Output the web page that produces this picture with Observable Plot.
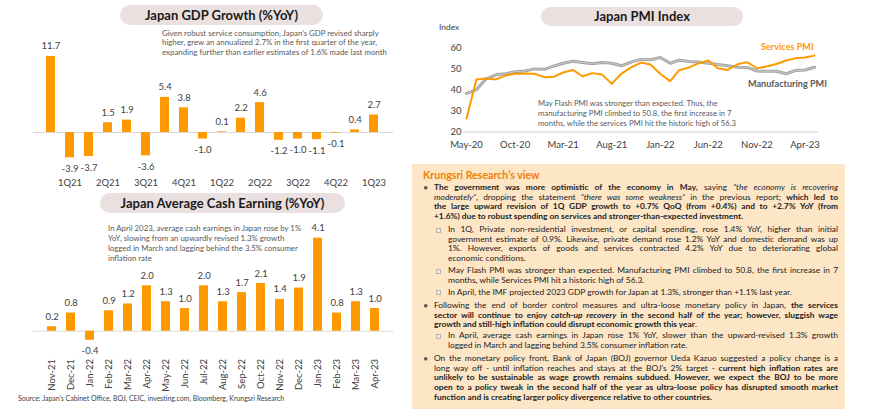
<!DOCTYPE html>
<html><head><meta charset="utf-8">
<script src="https://cdn.jsdelivr.net/npm/d3@7"></script>
<script src="https://cdn.jsdelivr.net/npm/@observablehq/plot@0.6"></script>
<style>
body{margin:0;width:870px;height:420px;background:#fff;position:relative;overflow:hidden;font-family:Lato,sans-serif;color:#404040}
.abs{position:absolute}
.pill{position:absolute;background:#e9e0df;border-radius:11px;text-align:center;font-weight:700;color:#1a1a1a;font-size:13px}
.note{position:absolute;font-size:7.85px;line-height:9.6px;color:#595959;white-space:nowrap}
.panel{position:absolute;left:412px;top:164px;width:433px;height:245px;background:#fde6c6}
.hdr{position:absolute;left:423px;top:168px;font-size:10.6px;font-weight:700;color:#f07f09;line-height:14px}
.para{position:absolute;font-size:8.4px;line-height:9.65px;color:#222}
.para .ln{text-align:justify;text-align-last:justify;white-space:normal;height:9.65px;overflow:visible}
.para .ln.last{text-align-last:left}
.dot{position:absolute;font-size:9px;color:#555;line-height:9.65px}
.sq{position:absolute;width:3px;height:3px;border:1px solid #b5b5b5}
.lbl{position:absolute;font-size:9.1px;font-weight:700;white-space:nowrap}
</style></head>
<body>
<div id="gdp" class="abs" style="left:0;top:0"></div>
<div id="cash" class="abs" style="left:0;top:190px"></div>
<div id="pmi" class="abs" style="left:400px;top:0"></div>
<script>
// ---- GDP ----
const gdpTickLabels = ["", "1Q21", "", "2Q21", "", "3Q21", "", "4Q21", "", "1Q22", "", "2Q22", "", "3Q22", "", "4Q22", "", "1Q23"];
const gdpValues = [11.7, -3.9, -3.7, 1.5, 1.9, -3.6, 5.4, 3.8, -1.0, 0.1, 2.2, 4.6, -1.2, -1.0, -1.1, -0.1, 0.4, 2.7];
// ---- Cash earnings ----
const cashMonths = ["Nov-21","Dec-21","Jan-22","Feb-22","Mar-22","Apr-22","May-22","Jun-22","Jul-22","Aug-22","Sep-22","Oct-22","Nov-22","Dec-22","Jan-23","Feb-23","Mar-23","Apr-23"];
const cashValues = [0.2, 0.8, -0.4, 0.9, 1.2, 2.0, 1.3, 1.0, 2.0, 1.3, 1.7, 2.1, 1.4, 1.9, 4.1, 0.8, 1.3, 1.0];
// ---- PMI ----
const pmiMonths = ["May-20","Jun-20","Jul-20","Aug-20","Sep-20","Oct-20","Nov-20","Dec-20",
 "Jan-21","Feb-21","Mar-21","Apr-21","May-21","Jun-21","Jul-21","Aug-21","Sep-21","Oct-21","Nov-21","Dec-21",
 "Jan-22","Feb-22","Mar-22","Apr-22","May-22","Jun-22","Jul-22","Aug-22","Sep-22","Oct-22","Nov-22","Dec-22",
 "Jan-23","Feb-23","Mar-23","Apr-23","May-23"];
const manufacturingPMI = [38.4, 40.1, 45.2, 47.2, 47.7, 48.7, 49.0, 50.0,
 49.8, 51.4, 52.7, 53.6, 53.0, 52.4, 53.0, 52.7, 51.5, 53.2, 54.5, 54.3,
 55.4, 52.7, 54.1, 53.5, 53.3, 52.7, 52.1, 51.5, 50.8, 50.7, 49.0, 48.9,
 48.9, 47.7, 49.2, 49.5, 50.8];
const servicesPMI = [26.5, 45.0, 45.4, 45.0, 46.9, 47.7, 47.8, 47.7,
 46.1, 46.3, 48.3, 49.5, 46.5, 48.0, 47.4, 42.9, 47.8, 50.7, 53.0, 52.1,
 47.6, 44.2, 49.4, 50.7, 52.6, 54.0, 50.3, 49.5, 52.2, 53.2, 50.3, 51.1,
 52.3, 54.0, 55.0, 55.4, 56.3];
const pmiTicks = ["May-20","Oct-20","Mar-21","Aug-21","Jan-22","Jun-22","Nov-22","Apr-23"];
const pmiYTicks = [20, 30, 40, 50, 60];

const ORANGE = "#ff9900";
const fmt = v => v.toFixed(1);
const baseStyle = {fontFamily: "Lato, sans-serif", fontSize: "9.5px", color: "#404040", background: "transparent", overflow: "visible"};

// GDP chart
const gdpData = gdpValues.map((v, i) => ({i, v}));
document.getElementById("gdp").append(Plot.plot({
  width: 400, height: 192, marginLeft: 28, marginRight: 4, marginTop: 47.5, marginBottom: 27.5,
  style: baseStyle,
  x: {type: "band", domain: d3.range(gdpValues.length), padding: 0.55, tickFormat: i => gdpTickLabels[i], tickSize: 0, tickPadding: 14, label: null},
  y: {domain: [-5, 13], axis: null},
  marks: [
    Plot.ruleY([0], {stroke: "#d9d9d9", strokeWidth: 1, insetLeft: 5, insetRight: 3}),
    Plot.barY(gdpData, {x: "i", y: "v", fill: ORANGE}),
    Plot.text(gdpData.filter(d => d.v >= 0), {x: "i", y: "v", text: d => fmt(d.v), dy: -10, fill: "#404040", fontSize: 9.5}),
    Plot.text(gdpData.filter(d => d.v < 0), {x: "i", y: "v", text: d => fmt(d.v), dy: 11, fill: "#404040", fontSize: 9.5})
  ]
}));

// Cash chart
const cashData = cashValues.map((v, i) => ({m: cashMonths[i], v}));
document.getElementById("cash").append(Plot.plot({
  width: 400, height: 210, marginLeft: 27.5, marginRight: 2.6, marginTop: 27.2, marginBottom: 46.6,
  style: baseStyle,
  x: {type: "band", domain: cashMonths, padding: 0.55, tickSize: 0, tickPadding: 5, tickRotate: -90, label: null},
  y: {domain: [-1, 5], axis: null},
  marks: [
    Plot.ruleY([0], {stroke: "#d9d9d9", strokeWidth: 1, insetLeft: 5, insetRight: 4}),
    Plot.barY(cashData, {x: "m", y: "v", fill: ORANGE}),
    Plot.text(cashData.filter(d => d.v >= 0), {x: "m", y: "v", text: d => fmt(d.v), dy: -10, fill: "#404040", fontSize: 9.5}),
    Plot.text(cashData.filter(d => d.v < 0), {x: "m", y: "v", text: d => fmt(d.v), dy: 11, fill: "#404040", fontSize: 9.5})
  ]
}));

// PMI chart
const parse = d3.utcParse("%b-%y");
const pmiData = pmiMonths.map((m, i) => ({date: parse(m), mfg: manufacturingPMI[i], svc: servicesPMI[i]}));
document.getElementById("pmi").append(Plot.plot({
  width: 470, height: 155, marginLeft: 66, marginRight: 56, marginTop: 47.3, marginBottom: 23.3,
  style: baseStyle,
  x: {type: "utc", domain: [parse(pmiMonths[0]), parse(pmiMonths[pmiMonths.length - 1])], ticks: pmiTicks.map(parse), tickFormat: d3.utcFormat("%b-%y"), tickSize: 0, tickPadding: 9, label: null},
  y: {domain: [20, 60], ticks: pmiYTicks, tickSize: 0, tickPadding: 5, label: null},
  marks: [
    Plot.ruleY([20], {stroke: "#d9d9d9", strokeWidth: 1.2, insetLeft: -3, insetRight: -4}),
    Plot.lineY(pmiData, {x: "date", y: "mfg", stroke: "#a3a3a3", strokeWidth: 3}),
    Plot.lineY(pmiData, {x: "date", y: "mfg", stroke: "#c9c9c9", strokeWidth: 1}),
    Plot.lineY(pmiData, {x: "date", y: "svc", stroke: ORANGE, strokeWidth: 2})
  ]
}));
</script>

<div class="pill" style="left:120px;top:5px;width:203px;height:20px;line-height:20px">Japan GDP Growth (%YoY)</div>
<div class="note" style="left:162px;top:28.5px">Given robust service consumption, Japan’s GDP revised sharply<br>higher, grew an annualized 2.7% in the first quarter of the year,<br>expanding further than earlier estimates of 1.6% made last month</div>

<div class="pill" style="left:100px;top:193px;width:245px;height:20px;line-height:20px">Japan Average Cash Earning (%YoY)</div>
<div class="note" style="left:108px;top:222.5px;line-height:10.1px">In April 2023, average cash earnings in Japan rose by 1%<br>YoY, slowing from an upwardly revised 1.3% growth<br>logged in March and lagging behind the 3.5% consumer<br>inflation rate</div>
<div class="note" style="left:18px;top:393.5px;font-size:6.95px;color:#404040">Source: Japan’s Cabinet Office, BOJ, CEIC, investing.com, Bloomberg, Krungsri Research</div>

<div class="pill" style="left:541px;top:7px;width:202px;height:19px;line-height:19px">Japan PMI Index</div>
<div class="note" style="left:439px;top:23px;font-size:8.4px;color:#404040">Index</div>
<div class="lbl" style="left:761px;top:41px;color:#ff9900">Services PMI</div>
<div class="lbl" style="left:748px;top:78px;color:#595959">Manufacturing PMI</div>
<div class="note" style="left:538px;top:98.2px;font-size:7.7px;line-height:10px">May Flash PMI was stronger than expected. Thus, the<br>manufacturing PMI climbed to 50.8, the first increase in 7<br>months, while the services PMI hit the historic high of 56.3</div>

<div class="panel"></div>
<div class="hdr">Krungsri Research’s view</div>

<div class="dot" style="left:423px;top:182.9px">•</div>
<div class="para" style="left:434px;top:182.9px;width:404px">
<div class="ln"><b>The government was more optimistic of the economy in May,</b> saying <i>“the economy is recovering</i></div>
<div class="ln"><i>moderately”</i>, dropping the statement <i>“there was some weakness”</i> in the previous report; <b>which led to</b></div>
<div class="ln"><b>the large upward revision of 1Q GDP growth to +0.7% QoQ (from +0.4%) and to +2.7% YoY (from</b></div>
<div class="ln last"><b>+1.6%) due to robust spending on services and stronger-than-expected investment.</b></div>
</div>

<div class="sq" style="left:436px;top:228px"></div>
<div class="para" style="left:448px;top:225.2px;width:390px">
<div class="ln">In 1Q, Private non-residential investment, or capital spending, rose 1.4% YoY, higher than initial</div>
<div class="ln">government estimate of 0.9%. Likewise, private demand rose 1.2% YoY and domestic demand was up</div>
<div class="ln">1%. However, exports of goods and services contracted 4.2% YoY due to deteriorating global</div>
<div class="ln last">economic conditions.</div>
</div>

<div class="sq" style="left:436px;top:269px"></div>
<div class="para" style="left:448px;top:266.2px;width:390px">
<div class="ln">May Flash PMI was stronger than expected. Manufacturing PMI climbed to 50.8, the first increase in 7</div>
<div class="ln last">months, while Services PMI hit a historic high of 56.3.</div>
</div>

<div class="sq" style="left:436px;top:290.3px"></div>
<div class="para" style="left:448px;top:287.5px;width:390px">
<div class="ln last">In April, the IMF projected 2023 GDP growth for Japan at 1.3%, stronger than +1.1% last year.</div>
</div>

<div class="dot" style="left:423px;top:300.9px">•</div>
<div class="para" style="left:434px;top:300.9px;width:404px">
<div class="ln">Following the end of border control measures and ultra-loose monetary policy in Japan, <b>the services</b></div>
<div class="ln"><b>sector will continue to enjoy <i>catch-up recovery</i> in the second half of the year; however, sluggish wage</b></div>
<div class="ln last"><b>growth and still-high inflation could disrupt economic growth this year</b>.</div>
</div>

<div class="sq" style="left:436px;top:334px"></div>
<div class="para" style="left:448px;top:331.2px;width:390px">
<div class="ln">In April, average cash earnings in Japan rose 1% YoY, slower than the upward-revised 1.3% growth</div>
<div class="ln last">logged in March and lagging behind 3.5% consumer inflation rate.</div>
</div>

<div class="dot" style="left:423px;top:354.2px">•</div>
<div class="para" style="left:434px;top:354.2px;width:404px">
<div class="ln">On the monetary policy front, Bank of Japan (BOJ) governor Ueda Kazuo suggested a policy change is a</div>
<div class="ln">long way off - until inflation reaches and stays at the BOJ’s 2% target - <b>current high inflation rates are</b></div>
<div class="ln"><b>unlikely to be sustainable as wage growth remains subdued. However, we expect the BOJ to be more</b></div>
<div class="ln"><b>open to a policy tweak in the second half of the year as ultra-loose policy has disrupted smooth market</b></div>
<div class="ln last"><b>function and is creating larger policy divergence relative to other countries.</b></div>
</div>
</body></html>
